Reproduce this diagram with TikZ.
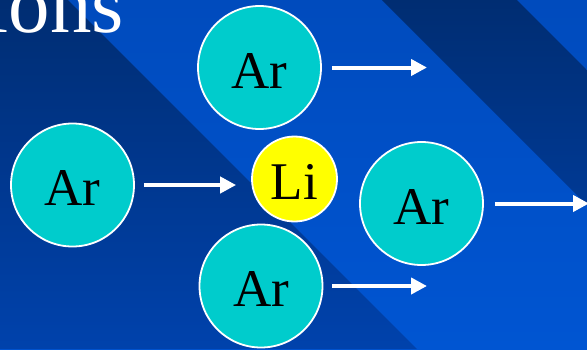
\documentclass[tikz,border=0pt]{standalone}
\usepackage{fontspec}
\setmainfont{Liberation Serif}
\usetikzlibrary{calc,arrows.meta,positioning}
\definecolor{slidelight}{HTML}{004BBD}
\definecolor{slidelightlow}{HTML}{0055D2}
\definecolor{slidedark}{HTML}{002D72}
\definecolor{slidedarklow}{HTML}{0042AC}
\definecolor{argoncyan}{HTML}{00CCCC}
\definecolor{lithiumyellow}{HTML}{FFFF00}
\tikzset{
ar_atom/.style={circle, draw=white, line width=1.8pt, fill=argoncyan, text=black, minimum size=123pt, inner sep=0pt, text height=41pt, font=\fontsize{53}{60}\selectfont},
li_atom/.style={circle, draw=white, line width=1.8pt, fill=lithiumyellow, text=black, minimum size=85pt, inner sep=0pt, text height=40pt, font=\fontsize{53}{60}\selectfont},
push_arrow/.style={draw=white, line width=4pt, -{Triangle[length=16pt, width=16pt]}},
title_text/.style={text=white, inner sep=0pt, font=\fontsize{83}{90}\selectfont}
}

\begin{document}
\begin{tikzpicture}[x=1pt, y=-1pt]
    \useasboundingbox (0,0) rectangle (587,349);
    % background stripes
    \shade[top color=slidelight, bottom color=slidelightlow] (0,0) rectangle (587,349);
    \shade[top color=slidedark, bottom color=slidedarklow] (0,0) -- (68,0) -- (417,349) -- (0,349) -- cycle;
    \shade[top color=slidedark, bottom color=slidedarklow!60!slidedark] (382,0) -- (517,0) -- (587,70) -- (587,205) -- cycle;
    \node[title_text, anchor=base east] (title) at (124,32) {ions};
    \node[ar_atom] (ar_top) at (259.5,67.5) {Ar};
    \node[ar_atom] (ar_left) at (72.5,185) {Ar};
    \node[li_atom] (li) at (294.5,179) {Li};
    \node[ar_atom] (ar_right) at (421.5,203.5) {Ar};
    \node[ar_atom] (ar_bottom) at (261,286) {Ar};
    \coordinate (top_end) at (427,67.5);
    \coordinate (right_end) at (589,203.5);
    \coordinate (bottom_end) at (427,286);
    \draw[push_arrow, shorten <=10pt] (ar_top.east) -- (top_end);
    \draw[push_arrow, shorten <=9pt, shorten >=15pt] (ar_left.east) -- (ar_left.east -| li.west);
    \draw[push_arrow, shorten <=11pt] (ar_right.east) -- (right_end);
    \draw[push_arrow, shorten <=9pt] (ar_bottom.east) -- (bottom_end);
\end{tikzpicture}
\end{document}
